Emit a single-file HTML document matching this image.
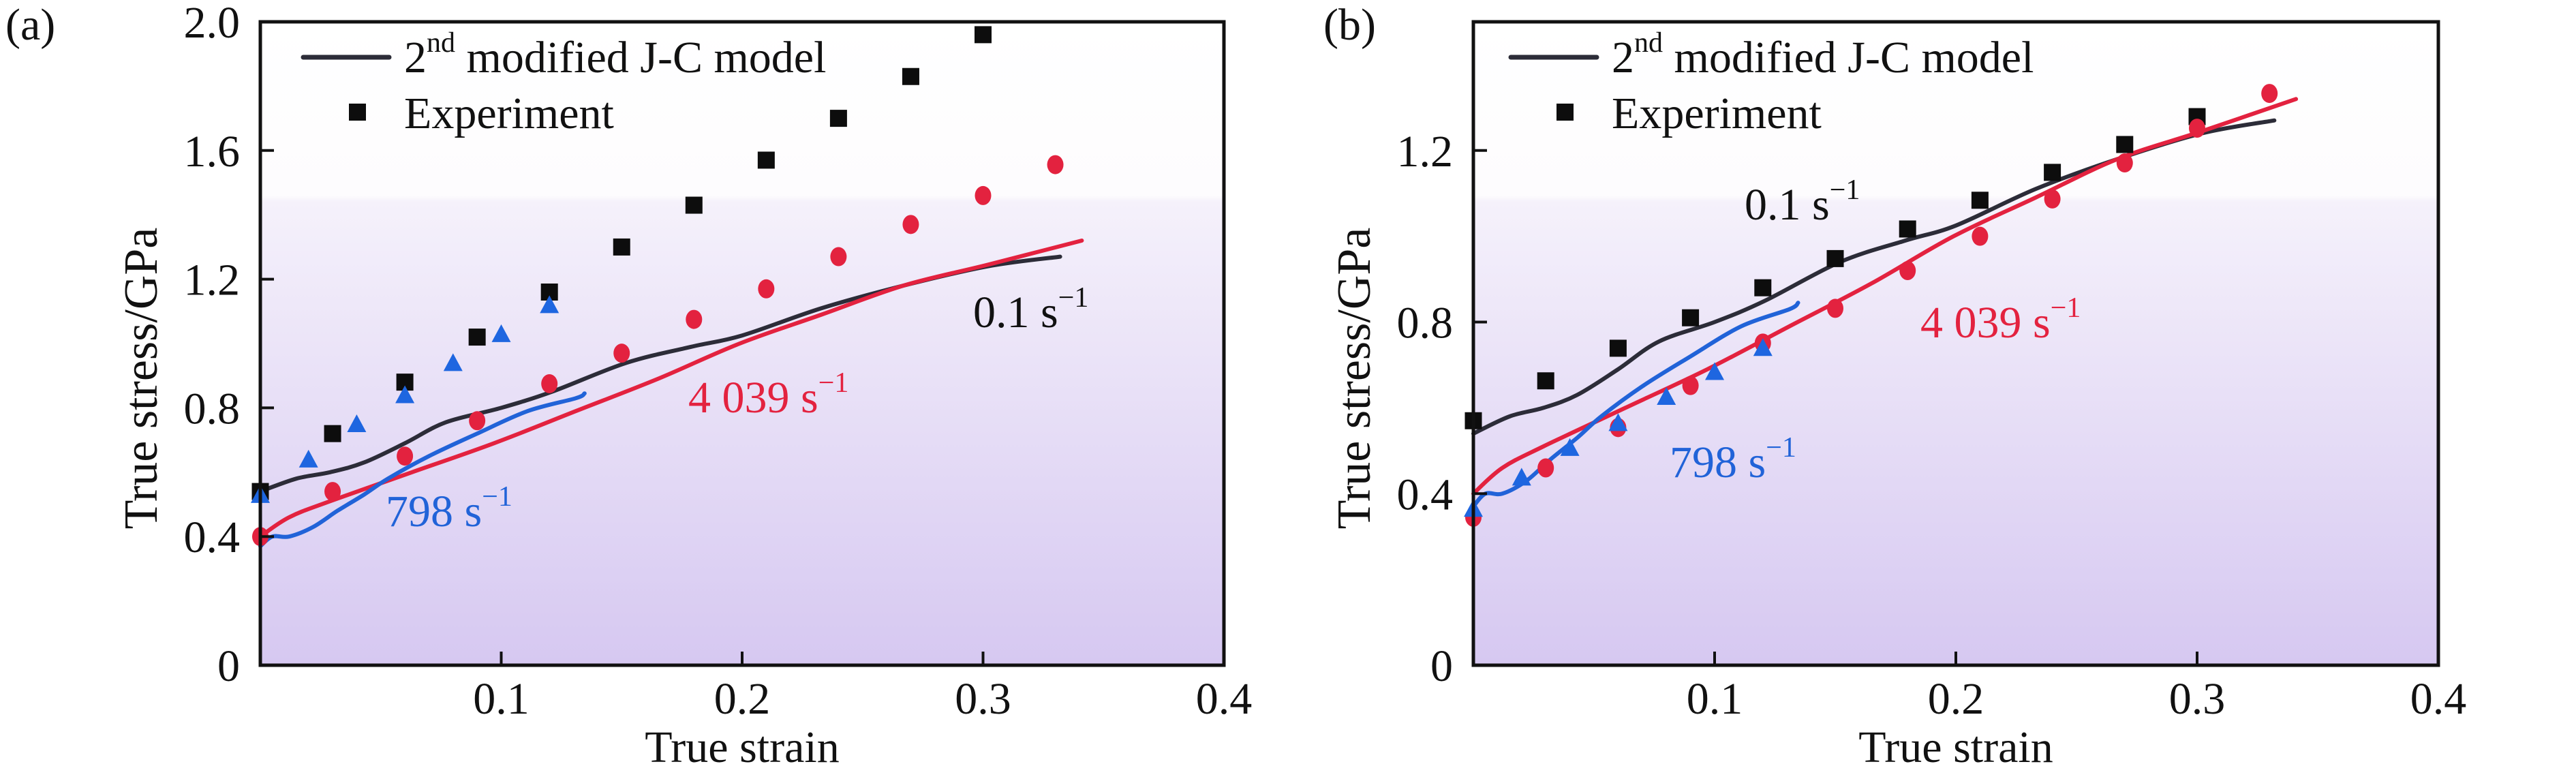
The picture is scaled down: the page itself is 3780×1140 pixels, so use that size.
<!DOCTYPE html>
<html><head><meta charset="utf-8"><style>
html,body{margin:0;padding:0;background:#fff;}
svg{display:block;font-family:"Liberation Serif",serif;}
</style></head><body>
<svg id="fig" width="3780" height="1140" viewBox="0 0 3780 1140" xmlns="http://www.w3.org/2000/svg">
<defs>
<linearGradient id="bg" x1="0" y1="0" x2="0" y2="1">
<stop offset="0" stop-color="#ffffff"/>
<stop offset="0.27" stop-color="#fdfcfe"/>
<stop offset="0.28" stop-color="#f5f1fb"/>
<stop offset="1" stop-color="#d6c8f1"/>
</linearGradient>
</defs>
</svg>
<script>
// model curves (shared by both panels)
const modelStrain = [0,0.015,0.029,0.043,0.06,0.077,0.1,0.121,0.152,0.179,0.2,0.233,0.267,0.302,0.332];
const modelStress01 = [0.54,0.58,0.60,0.63,0.69,0.755,0.80,0.85,0.94,0.99,1.025,1.11,1.18,1.24,1.27];
const model4039Strain = [0,0.012,0.029,0.063,0.097,0.131,0.165,0.199,0.233,0.267,0.302,0.341];
const model4039Stress = [0.40,0.46,0.51,0.60,0.69,0.79,0.89,1.0,1.09,1.18,1.245,1.32];
const model798Strain = [0,0.005,0.012,0.022,0.032,0.043,0.053,0.07,0.09,0.111,0.131,0.1346];
const model798Stress = [0.37,0.40,0.40,0.43,0.48,0.53,0.58,0.65,0.72,0.79,0.83,0.845];
// experiments panel (a)
const aSqX = [0,0.03,0.06,0.09,0.12,0.15,0.18,0.21,0.24,0.27,0.30];
const aSqY = [0.54,0.72,0.88,1.02,1.16,1.30,1.43,1.57,1.70,1.83,1.96];
const aCirX = [0,0.03,0.06,0.09,0.12,0.15,0.18,0.21,0.24,0.27,0.30,0.33];
const aCirY = [0.40,0.54,0.65,0.76,0.875,0.97,1.075,1.17,1.27,1.37,1.46,1.556];
const aTriX = [0,0.02,0.04,0.06,0.08,0.10,0.12];
const aTriY = [0.53,0.64,0.75,0.84,0.94,1.03,1.12];
// experiments panel (b)
const bSqX = [0,0.03,0.06,0.09,0.12,0.15,0.18,0.21,0.24,0.27,0.30];
const bSqY = [0.57,0.663,0.739,0.81,0.88,0.948,1.017,1.084,1.149,1.214,1.279];
const bCirX = [0,0.03,0.06,0.09,0.12,0.15,0.18,0.21,0.24,0.27,0.30,0.33];
const bCirY = [0.345,0.46,0.554,0.652,0.751,0.832,0.92,1.00,1.087,1.171,1.252,1.333];
const bTriX = [0,0.02,0.04,0.06,0.08,0.10,0.12];
const bTriY = [0.365,0.438,0.507,0.565,0.626,0.684,0.74];
const xTicks = [0.1,0.2,0.3,0.4];
const xTickLabels = ["0.1","0.2","0.3","0.4"];
const aYTicks = [0,0.4,0.8,1.2,1.6,2.0];
const aYTickLabels = ["0","0.4","0.8","1.2","1.6","2.0"];
const bYTicks = [0,0.4,0.8,1.2];
const bYTickLabels = ["0","0.4","0.8","1.2"];

const NS="http://www.w3.org/2000/svg";
const svg=document.getElementById('fig');
function mk(tag,attrs,parent){const e=document.createElementNS(NS,tag);for(const k in attrs)e.setAttribute(k,attrs[k]);(parent||svg).appendChild(e);return e;}
function txt(str,attrs,parent){const e=mk('text',attrs,parent);e.textContent=str;return e;}
function supText(g,base,sup,attrs){const t=mk('text',attrs,g);const s1=document.createElementNS(NS,'tspan');s1.textContent=base;t.appendChild(s1);const s2=document.createElementNS(NS,'tspan');s2.setAttribute('dy','-30');s2.setAttribute('font-size','42');s2.textContent=sup;t.appendChild(s2);return t;}
function smoothPath(pts){
  let d='M'+pts[0][0].toFixed(1)+' '+pts[0][1].toFixed(1);
  for(let i=0;i<pts.length-1;i++){
    const p0=pts[Math.max(0,i-1)],p1=pts[i],p2=pts[i+1],p3=pts[Math.min(pts.length-1,i+2)];
    const c1x=p1[0]+(p2[0]-p0[0])/6,c1y=p1[1]+(p2[1]-p0[1])/6;
    const c2x=p2[0]-(p3[0]-p1[0])/6,c2y=p2[1]-(p3[1]-p1[1])/6;
    d+=`C${c1x.toFixed(1)} ${c1y.toFixed(1)} ${c2x.toFixed(1)} ${c2y.toFixed(1)} ${p2[0].toFixed(1)} ${p2[1].toFixed(1)}`;
  }
  return d;
}

function panel(p){
  const g=mk('g',{});
  
  
  const L=p.left,R=p.right,T=32,B=976;
  const sx=v=>L+v/0.4*(R-L);
  const sy=v=>B-v/p.ymax*(B-T);
  const bg=mk('rect',{x:L,y:T,width:R-L,height:B-T,fill:'url(#bg)'},g);
  
  
  function line(xs,ys,color,nm){
    const pts=xs.map((x,i)=>[sx(x),sy(ys[i])]);
    const e=mk('path',{d:smoothPath(pts),fill:'none',stroke:color,'stroke-width':6,'stroke-linejoin':'round','stroke-linecap':'round'},g);
    
    
  }
  line(modelStrain,modelStress01,'#2c2c38','model-line-0.1');
  line(model4039Strain,model4039Stress,'#e3223f','model-line-4039');
  line(model798Strain,model798Stress,'#2163d8','model-line-798');
  p.sqX.forEach((x,i)=>{const e=mk('rect',{x:sx(x)-12.5,y:sy(p.sqY[i])-12.5,width:25,height:25,fill:'#0d0d0d'},g);
    
    });
  p.cirX.forEach((x,i)=>{const e=mk('ellipse',{cx:sx(x),cy:sy(p.cirY[i]),rx:12,ry:14,fill:'#e3223f'},g);
    
    });
  p.triX.forEach((x,i)=>{const cx=sx(x),cy=sy(p.triY[i]);const e=mk('polygon',{points:`${cx-14},${cy+12} ${cx+14},${cy+12} ${cx},${cy-14}`,fill:'#1e66e0'},g);
    
    });
  const fr=mk('rect',{x:L,y:T,width:R-L,height:B-T,fill:'none',stroke:'#111',"stroke-width":5},g);
  
  
  xTicks.forEach((v,i)=>{
    const t=mk('line',{x1:sx(v),x2:sx(v),y1:B,y2:B-20,stroke:'#111','stroke-width':4},g);
    
    
    const l=txt(xTickLabels[i],{x:sx(v),y:1047,'font-size':66,'text-anchor':'middle',fill:'#111'},g);
    
    
  });
  p.yTicks.forEach((v,i)=>{
    const t=mk('line',{x1:L,x2:L+20,y1:sy(v),y2:sy(v),stroke:'#111','stroke-width':4},g);
    
    
    const l=txt(p.yLabels[i],{x:L-30,y:sy(v)+23,'font-size':66,'text-anchor':'end',fill:'#111'},g);
    
    
  });
  const xt=txt('True strain',{x:(L+R)/2,y:1118,'font-size':66,'text-anchor':'middle',fill:'#111'},g);
  
  
  const yt=txt('True stress/GPa',{x:0,y:0,'font-size':70,'text-anchor':'middle',fill:'#111',transform:`translate(${p.ytx},555) rotate(-90)`},g);
  
  
  const pl=txt(p.label,{x:p.labelX,y:58,'font-size':66,fill:'#111'},g);
  
  
  const lg=mk('g',{},g);
  
  
  mk('line',{x1:p.legX,x2:p.legX+126,y1:84,y2:84,stroke:'#2c2c38','stroke-width':7,'stroke-linecap':'round'},lg);
  supText(lg,'2','nd',{x:p.legX+148,y:106,'font-size':66,fill:'#111'});
  const tm=lg.lastChild;const s3=document.createElementNS(NS,'tspan');s3.setAttribute('dy','30');s3.textContent=' modified J-C model';tm.appendChild(s3);
  mk('rect',{x:p.legX+67,y:152,width:25,height:25,fill:'#0d0d0d'},lg);
  txt('Experiment',{x:p.legX+148,y:188,'font-size':66,fill:'#111'},lg);
  const r1=supText(g,'0.1 s','−1',{x:p.r01[0],y:p.r01[1],'font-size':66,fill:'#111'});
  
  
  const r2=supText(g,'4 039 s','−1',{x:p.r4039[0],y:p.r4039[1],'font-size':66,fill:'#e3223f'});
  
  
  const r3=supText(g,'798 s','−1',{x:p.r798[0],y:p.r798[1],'font-size':66,fill:'#2163d8'});
  
  
}
panel({name:'panel-a',left:382,right:1796,ymax:2.0,yTicks:aYTicks,yLabels:aYTickLabels,sqX:aSqX,sqY:aSqY,cirX:aCirX,cirY:aCirY,triX:aTriX,triY:aTriY,ytx:230,label:'(a)',labelX:8,legX:445,r01:[1428,480],r4039:[1010,605],r798:[566,772]});
panel({name:'panel-b',left:2162,right:3578,ymax:1.5,yTicks:bYTicks,yLabels:bYTickLabels,sqX:bSqX,sqY:bSqY,cirX:bCirX,cirY:bCirY,triX:bTriX,triY:bTriY,ytx:2010,label:'(b)',labelX:1942,legX:2217,r01:[2560,322],r4039:[2818,495],r798:[2450,700]});
</script>
</body></html>
